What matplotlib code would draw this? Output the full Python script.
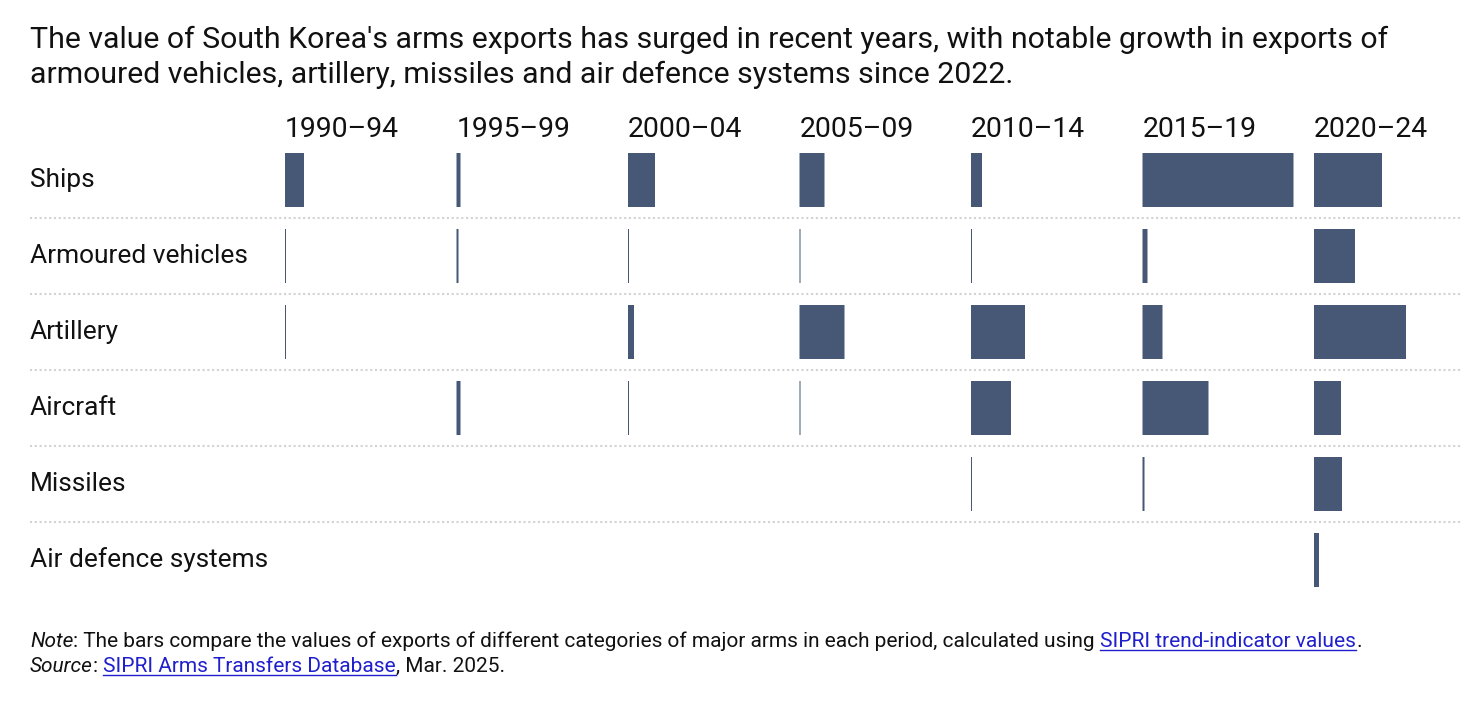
import matplotlib
matplotlib.use('Agg')
import matplotlib.pyplot as plt
from matplotlib.lines import Line2D
from matplotlib.transforms import blended_transform_factory

# ---------------- data ----------------
periods = ['1990–94', '1995–99', '2000–04', '2005–09', '2010–14', '2015–19', '2020–24']
categories = ['Ships', 'Armoured vehicles', 'Artillery', 'Aircraft', 'Missiles', 'Air defence systems']
# relative export values (same scale across all cells; largest = Ships 2015–19)
ships = [19, 4, 27, 25, 11, 151, 68]
armoured_vehicles = [1, 2, 1, 1, 1, 5, 41]
artillery = [1, 0, 6, 45, 54, 20, 92]
aircraft = [0, 4, 1, 1, 40, 66, 27]
missiles = [0, 0, 0, 0, 1, 2, 28]
air_defence = [0, 0, 0, 0, 0, 0, 5]
series = [ships, armoured_vehicles, artillery, aircraft, missiles, air_defence]

title_lines = ["The value of South Korea's arms exports has surged in recent years, with notable growth in exports of",
               "armoured vehicles, artillery, missiles and air defence systems since 2022."]

# ---------------- style ----------------
W, H, DPI = 1462, 708, 100
BAR = '#465876'
TXT = '#111111'
plt.rcParams['font.family'] = ['Roboto', 'DejaVu Sans']

fig = plt.figure(figsize=(W / DPI, H / DPI), dpi=DPI)
fig.patch.set_facecolor('white')

col_step = 171.5
ax_left, ax_right, ax_top, ax_bot = 285, 1462, 142, 598
label_x = 30
ax = fig.add_axes([ax_left / W, 1 - ax_bot / H, (ax_right - ax_left) / W, (ax_bot - ax_top) / H])
ax.set_xlim(0, ax_right - ax_left)
ax.set_ylim(len(categories) - 0.5, -0.5)
ax.axis('off')

row_px = (ax_bot - ax_top) / len(categories)
for r, vals in enumerate(series):
    lefts = [i * col_step for i in range(len(periods))]
    bars = ax.barh([r] * len(vals), vals, left=lefts, height=54 / row_px, color=BAR, linewidth=0)
    for b in bars:
        b.set_snap(False)

xmin_ax = -(ax_left - label_x) / (ax_right - ax_left)
for r in range(len(categories) - 1):
    ax.axhline(r + 0.5, xmin=xmin_ax, xmax=1, clip_on=False, color='#d2d2d2', lw=1.5,
               ls=(0, (1, 1.3)))

trans = blended_transform_factory(fig.transFigure, ax.transData)
for r, cat in enumerate(categories):
    fig.text(label_x / W, r, cat, transform=trans, ha='left', va='center', fontsize=18.9, color=TXT)

for i, p in enumerate(periods):
    ax.text(i * col_step, -0.5 - 5 / row_px, p, ha='left', va='baseline', fontsize=20.4, color=TXT)

fig.text(label_x / W, 1 - 48 / H, title_lines[0], ha='left', va='baseline', fontsize=21.8, color=TXT)
fig.text(label_x / W, 1 - 83 / H, title_lines[1], ha='left', va='baseline', fontsize=21.8, color=TXT)

# ---------------- footnote ----------------
LINK = '#1f1fcc'
renderer = fig.canvas.get_renderer()


def rich_line(parts, x_px, y_px, size):
    cur = x_px
    for txt, kind in parts:
        style = 'italic' if kind == 'i' else 'normal'
        color = LINK if kind == 'link' else TXT
        t = fig.text(cur / W, 1 - y_px / H, txt, ha='left', va='baseline', fontsize=size,
                     style=style, color=color)
        bb = t.get_window_extent(renderer)
        if kind == 'link':
            fig.add_artist(Line2D([cur / W, (cur + bb.width) / W], [1 - (y_px + 3) / H] * 2,
                                  transform=fig.transFigure, color=LINK, lw=1))
        cur += bb.width


rich_line([('Note', 'i'), (': The bars compare the values of exports of different categories of major arms in each period, calculated using ', 'n'),
           ('SIPRI trend-indicator values', 'link'), ('.', 'n')], label_x, 647, 15.05)
rich_line([('Source', 'i'), (': ', 'n'), ('SIPRI Arms Transfers Database', 'link'), (', Mar. 2025.', 'n')], label_x, 672, 15.05)

fig.savefig('out.png', dpi=DPI, facecolor='white')
